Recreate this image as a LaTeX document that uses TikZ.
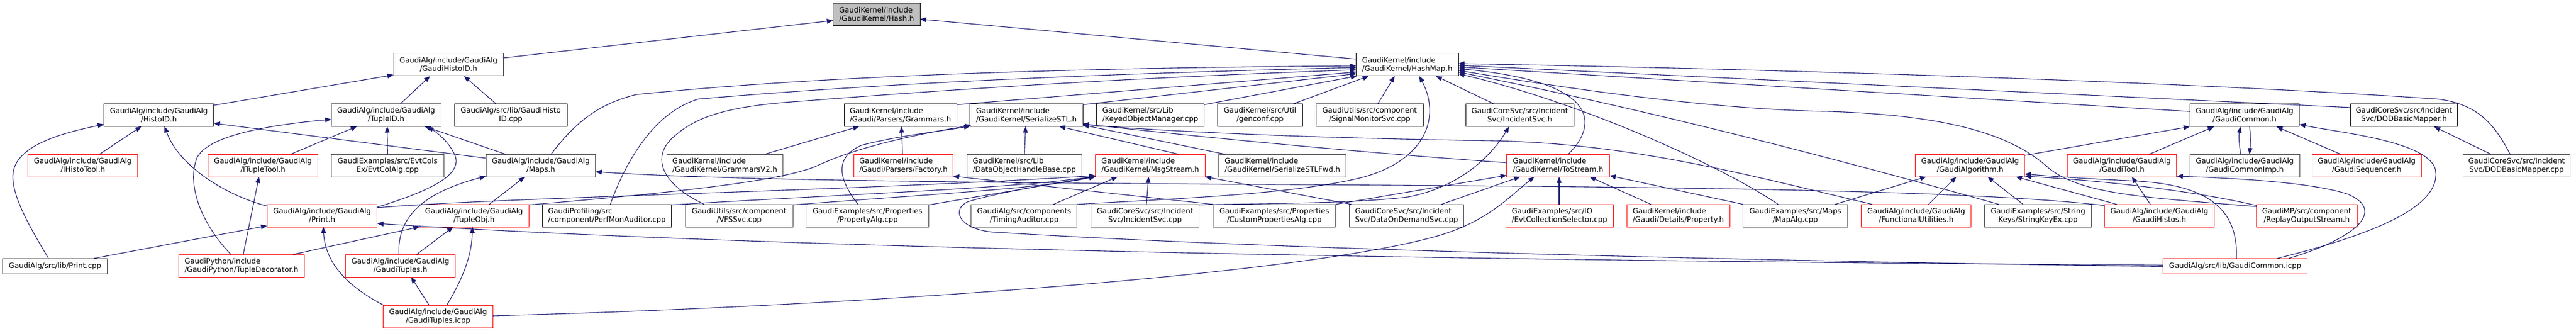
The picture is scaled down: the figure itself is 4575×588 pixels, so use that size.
\documentclass[tikz,border=0pt]{standalone}
\usepackage{fontspec}
\setmainfont{DejaVu Sans}
\usetikzlibrary{arrows.meta,calc}
\definecolor{edgecol}{HTML}{191970}
\definecolor{rootfill}{HTML}{BFBFBF}
\definecolor{leafborder}{HTML}{404040}
\begin{document}
\begin{tikzpicture}[x=1pt,y=-1pt,
  nd/.style={draw=black, line width=1pt, minimum height=40pt, inner sep=0pt, fill=white,
    font=\fontsize{13}{15}\selectfont, align=center},
  lf/.style={nd, draw=leafborder},
  rd/.style={nd, draw=red},
  la/.style={align=left},
  one/.style={minimum height=27pt},
  e/.style={draw=edgecol, line width=1.1pt, -{Triangle[length=11pt,width=8.5pt]}}]
\fill[white] (0,0) rectangle (4575,588);
\useasboundingbox (0,0) rectangle (4575,588);
% row 0
\node[nd, la, fill=rootfill, minimum width=154.5pt] (hash) at (1556.8,25.6) {GaudiKernel/include\\/GaudiKernel/Hash.h};
% row 1
\node[nd, minimum width=195pt] (gaudihistoid) at (796.5,115) {GaudiAlg/include/GaudiAlg\\/GaudiHistoID.h};
\node[nd, la, minimum width=181.4pt] (hashmap) at (2499.3,115) {GaudiKernel/include\\/GaudiKernel/HashMap.h};
% row 2
\node[nd, minimum width=195pt] (histoid) at (282.1,204.5) {GaudiAlg/include/GaudiAlg\\/HistoID.h};
\node[nd, minimum width=194.7pt] (tupleid) at (685.7,204.5) {GaudiAlg/include/GaudiAlg\\/TupleID.h};
\node[nd, minimum width=200pt] (gaudihistoidcpp) at (907,204.5) {GaudiAlg/src/lib/GaudiHisto\\ID.cpp};
\node[nd, la, minimum width=200pt] (grammars) at (1599,204.5) {GaudiKernel/include\\/Gaudi/Parsers/Grammars.h};
\node[nd, la, minimum width=200.4pt] (serializestl) at (1823,204.5) {GaudiKernel/include\\/GaudiKernel/SerializeSTL.h};
\node[nd, la, minimum width=190.5pt] (keyedobj) at (2043,204.5) {GaudiKernel/src/Lib\\/KeyedObjectManager.cpp};
\node[nd, minimum width=150.8pt] (genconf) at (2237.8,204.5) {GaudiKernel/src/Util\\/genconf.cpp};
\node[nd, minimum width=191pt] (signalmon) at (2432.5,204.5) {GaudiUtils/src/component\\/SignalMonitorSvc.cpp};
\node[nd, minimum width=192pt] (incidentsvch) at (2699.2,204.5) {GaudiCoreSvc/src/Incident\\Svc/IncidentSvc.h};
\node[nd, minimum width=194.5pt] (gaudicommon) at (3986.3,204.5) {GaudiAlg/include/GaudiAlg\\/GaudiCommon.h};
\node[nd, minimum width=190.5pt] (dodmapperh) at (4269.5,204.5) {GaudiCoreSvc/src/Incident\\Svc/DODBasicMapper.h};
% row 3
\node[rd, minimum width=195pt] (ihistotool) at (147.1,294) {GaudiAlg/include/GaudiAlg\\/IHistoTool.h};
\node[rd, minimum width=195.5pt] (itupletool) at (467,294) {GaudiAlg/include/GaudiAlg\\/ITupleTool.h};
\node[lf, minimum width=200pt] (evtcolalg) at (688.3,294) {GaudiExamples/src/EvtCols\\Ex/EvtColAlg.cpp};
\node[lf, minimum width=194.6pt] (maps) at (960.4,294) {GaudiAlg/include/GaudiAlg\\/Maps.h};
\node[lf, la, minimum width=206.4pt] (grammarsv2) at (1287.2,294) {GaudiKernel/include\\/GaudiKernel/GrammarsV2.h};
\node[rd, la, minimum width=176pt] (factory) at (1604.5,294) {GaudiKernel/include\\/Gaudi/Parsers/Factory.h};
\node[lf, la, minimum width=204.3pt] (dataobjhandle) at (1819.2,294) {GaudiKernel/src/Lib\\/DataObjectHandleBase.cpp};
\node[rd, la, minimum width=194.7pt] (msgstream) at (2042.9,294) {GaudiKernel/include\\/GaudiKernel/MsgStream.h};
\node[lf, la, minimum width=226.5pt] (serializestlfwd) at (2277.6,294) {GaudiKernel/include\\/GaudiKernel/SerializeSTLFwd.h};
\node[rd, la, minimum width=182.7pt] (tostream) at (2767.2,294) {GaudiKernel/include\\/GaudiKernel/ToStream.h};
\node[rd, minimum width=194.3pt] (gaudialgorithm) at (3498.8,294) {GaudiAlg/include/GaudiAlg\\/GaudiAlgorithm.h};
\node[rd, minimum width=194.5pt] (gauditool) at (3768.5,294) {GaudiAlg/include/GaudiAlg\\/GaudiTool.h};
\node[lf, minimum width=194.5pt] (gaudicommonimp) at (3986.7,294) {GaudiAlg/include/GaudiAlg\\/GaudiCommonImp.h};
\node[rd, minimum width=193.6pt] (gaudisequencer) at (4203.2,294) {GaudiAlg/include/GaudiAlg\\/GaudiSequencer.h};
\node[lf, minimum width=190.6pt] (dodmappercpp) at (4469.5,294) {GaudiCoreSvc/src/Incident\\Svc/DODBasicMapper.cpp};
% row 4
\node[rd, minimum width=195pt] (printh) at (572,383) {GaudiAlg/include/GaudiAlg\\/Print.h};
\node[rd, minimum width=194.5pt] (tupleobj) at (841.8,383) {GaudiAlg/include/GaudiAlg\\/TupleObj.h};
\node[nd, la, minimum width=229.3pt] (perfmon) at (1077.9,383) {GaudiProfiling/src\\/component/PerfMonAuditor.cpp};
\node[lf, minimum width=191pt] (vfssvc) at (1312.7,383) {GaudiUtils/src/component\\/VFSSvc.cpp};
\node[lf, minimum width=217.5pt] (propertyalg) at (1540.7,383) {GaudiExamples/src/Properties\\/PropertyAlg.cpp};
\node[lf, minimum width=188.1pt] (timingauditor) at (1818.9,383) {GaudiAlg/src/components\\/TimingAuditor.cpp};
\node[lf, minimum width=192pt] (incidentsvccpp) at (2033.5,383) {GaudiCoreSvc/src/Incident\\Svc/IncidentSvc.cpp};
\node[lf, minimum width=217.4pt] (customprop) at (2263.2,383) {GaudiExamples/src/Properties\\/CustomPropertiesAlg.cpp};
\node[lf, la, minimum width=203.3pt] (dataondemand) at (2498,383) {GaudiCoreSvc/src/Incident\\Svc/DataOnDemandSvc.cpp};
\node[rd, la, minimum width=190.6pt] (evtcollsel) at (2769.7,383) {GaudiExamples/src/IO\\/EvtCollectionSelector.cpp};
\node[rd, la, minimum width=183pt] (propertyh) at (2980.5,383) {GaudiKernel/include\\/Gaudi/Details/Property.h};
\node[lf, minimum width=185.4pt] (mapalg) at (3188.4,383) {GaudiExamples/src/Maps\\/MapAlg.cpp};
\node[rd, minimum width=194.9pt] (functional) at (3403.2,383) {GaudiAlg/include/GaudiAlg\\/FunctionalUtilities.h};
\node[lf, minimum width=189.6pt] (stringkeyex) at (3619.5,383) {GaudiExamples/src/String\\Keys/StringKeyEx.cpp};
\node[rd, minimum width=194.9pt] (gaudihistos) at (3835,383) {GaudiAlg/include/GaudiAlg\\/GaudiHistos.h};
\node[rd, minimum width=178.7pt] (replay) at (4096.7,383) {GaudiMP/src/component\\/ReplayOutputStream.h};
% row 5
\node[lf, one, minimum width=185.7pt] (printcpp) at (97.8,472.5) {GaudiAlg/src/lib/Print.cpp};
\node[rd, la, minimum width=223pt] (tupledecorator) at (428.8,472) {GaudiPython/include\\/GaudiPython/TupleDecorator.h};
\node[rd, minimum width=195pt] (gaudituplesh) at (711,472) {GaudiAlg/include/GaudiAlg\\/GaudiTuples.h};
\node[rd, one, minimum width=256.2pt] (gaudicommonicpp) at (3969.7,472.5) {GaudiAlg/src/lib/GaudiCommon.icpp};
% row 6
\node[rd, minimum width=194.2pt] (gaudituplesicpp) at (777.9,562) {GaudiAlg/include/GaudiAlg\\/GaudiTuples.icpp};

% ---------------- edges
\draw[e] ($(gaudihistoid)+(97,-12)$) -- ($(hash)+(-77.3,10.8)$);
\draw[e] ($(hashmap)+(-90.3,-10)$) -- ($(hash)+(77.2,8.4)$);
\draw[e] ($(histoid)+(97.9,-17.5)$) -- ($(gaudihistoid)+(-97.5,18)$);
\draw[e] ($(tupleid)+(25.3,-20)$) -- ($(gaudihistoid)+(-32.5,20)$);
\draw[e] ($(gaudihistoidcpp)+(-26,-20)$) -- ($(gaudihistoid)+(27.5,20)$);
\draw[e] ($(ihistotool)+(29.7,-20)$) -- ($(histoid)+(-31,20)$);
\draw[e] ($(printcpp)+(-11.8,-13.5)$) .. controls (60,415) and (20,350) .. (23,310) .. controls (26,265) and (90,240) .. ($(histoid)+(-97.5,16.5)$);
\draw[e] ($(printh)+(-97.5,-17)$) .. controls (410,350) and (320,300) .. ($(histoid)+(10,20)$);
\draw[e] ($(maps)+(-97.4,-13)$) -- ($(histoid)+(97.5,14.5)$);
\draw[e] ($(tupledecorator)+(-18.8,-20)$) .. controls (360,400) and (330,330) .. (350,280) .. controls (370,240) and (480,222) .. ($(tupleid)+(-97.3,7.5)$);
\draw[e] ($(itupletool)+(49,-20)$) -- ($(tupleid)+(-51.7,20)$);
\draw[e] ($(evtcolalg)+(0,-20)$) -- ($(tupleid)+(2,20)$);
\draw[e] ($(maps)+(-62.4,-20)$) -- ($(tupleid)+(68.3,20)$);
\draw[e] ($(printh)+(98,-15)$) .. controls (760,340) and (830,310) .. (805,270) .. controls (795,250) and (775,235) .. ($(tupleid)+(74,20)$);
\draw[e] ($(tupledecorator)+(3.2,-20)$) -- ($(itupletool)+(-7,20)$);
\draw[e] ($(tupledecorator)+(91.8,-20)$) -- ($(tupleobj)+(-96.8,20)$);
\draw[e] ($(printcpp)+(69.2,-13.5)$) -- ($(printh)+(-97.5,18)$);
\draw[e] ($(gaudicommonicpp)+(-128.1,-1.5)$) .. controls (3000,466) and (1500,450) .. ($(printh)+(98,14)$);
\draw[e] ($(gaudicommonicpp)+(-128.1,1)$) .. controls (3000,462) and (2200,440) .. (1760,412) .. controls (1700,405) and (1690,370) .. (1720,358) .. controls (1780,340) and (1880,325) .. ($(msgstream)+(-97.4,19.5)$);
\draw[e] ($(gaudituplesicpp)+(-96.9,-20)$) .. controls (620,510) and (578,470) .. ($(printh)+(2,20)$);
\draw[e] ($(gaudituplesicpp)+(-15.9,-20)$) -- ($(gaudituplesh)+(19,20)$);
\draw[e] ($(gaudituplesicpp)+(15.6,-20)$) .. controls (825,490) and (838,450) .. ($(tupleobj)+(-2.8,20)$);
\draw[e] ($(gaudituplesh)+(29,-20)$) -- ($(tupleobj)+(-36.8,20)$);
\draw[e] ($(gaudituplesh)+(-2.5,-20)$) .. controls (705,380) and (760,340) .. ($(maps)+(-97.4,19)$);
\draw[e] ($(tupleobj)+(27.2,-20)$) -- ($(maps)+(-28.4,20)$);
\draw[e] ($(maps)+(18.2,-20)$) .. controls (1020,220) and (1060,185) .. (1130,168) .. controls (1500,130) and (2000,120) .. ($(hashmap)+(-90.7,2)$);
\draw[e] ($(perfmon)+(6,-20)$) .. controls (1110,290) and (1160,200) .. (1240,176) .. controls (1600,145) and (2000,130) .. ($(hashmap)+(-90.7,5)$);
\draw[e] ($(vfssvc)+(-61.7,-20)$) .. controls (1180,330) and (1150,280) .. (1200,240) .. controls (1240,205) and (1300,188) .. (1420,180) .. controls (1800,150) and (2100,135) .. ($(hashmap)+(-90.7,9)$);
\draw[e] ($(grammars)+(100,-18.5)$) -- ($(hashmap)+(-90.7,13)$);
\draw[e] ($(serializestl)+(100,-18.5)$) -- ($(hashmap)+(-90.7,16)$);
\draw[e] ($(keyedobj)+(95,-18.5)$) -- ($(hashmap)+(-89.3,20)$);
\draw[e] ($(genconf)+(59,-20)$) -- ($(hashmap)+(-68.3,20)$);
\draw[e] ($(signalmon)+(14.5,-20)$) -- ($(hashmap)+(-22.3,20)$);
\draw[e] ($(incidentsvch)+(-46.2,-20)$) -- ($(hashmap)+(50.7,20)$);
\draw[e] ($(timingauditor)+(94,-20)$) .. controls (2100,352) and (2300,345) .. (2420,315) .. controls (2530,285) and (2560,210) .. ($(hashmap)+(21.4,20)$);
\draw[e] ($(tostream)+(18,-20)$) .. controls (2840,220) and (2840,145) .. ($(hashmap)+(90.7,7)$);
\draw[e] ($(gaudicommon)+(-97.3,-6.5)$) -- ($(hashmap)+(90.7,4)$);
\draw[e] ($(dodmapperh)+(-95.2,-13.5)$) -- ($(hashmap)+(90.7,1)$);
\draw[e] ($(dodmappercpp)+(-11.5,-20)$) .. controls (4430,220) and (4400,185) .. (4330,176) .. controls (3800,140) and (3000,120) .. ($(hashmap)+(90.7,-2)$);
\draw[e] ($(replay)+(-89.4,-16)$) .. controls (3800,350) and (3700,345) .. (3640,300) .. controls (3570,235) and (3450,205) .. (3250,198) .. controls (3050,195) and (2800,160) .. ($(hashmap)+(90.7,10)$);
\draw[e] ($(stringkeyex)+(-69.5,-20)$) .. controls (3200,265) and (2900,190) .. ($(hashmap)+(90.7,13)$);
\draw[e] ($(mapalg)+(-30.4,-20)$) .. controls (3050,290) and (2800,180) .. ($(hashmap)+(90.7,16)$);
\draw[e] ($(grammarsv2)+(70.8,-20)$) -- ($(grammars)+(-73,20)$);
\draw[e] ($(factory)+(-1.5,-20)$) -- ($(grammars)+(2,20)$);
\draw[e] ($(propertyalg)+(-16.7,-20)$) .. controls (1490,320) and (1480,280) .. (1530,258) .. controls (1600,240) and (1680,232) .. ($(serializestl)+(-100,19.5)$);
\draw[e] ($(tupleobj)+(97.2,-19)$) .. controls (1150,346) and (1380,325) .. (1450,295) .. controls (1520,262) and (1620,240) .. ($(serializestl)+(-98,18)$);
\draw[e] ($(printh)+(97,-14)$) .. controls (900,350) and (1500,340) .. ($(msgstream)+(-97.4,18)$);
\draw[e] ($(perfmon)+(114.6,-19)$) .. controls (1500,345) and (1800,335) .. ($(msgstream)+(-97.4,19)$);
\draw[e] ($(vfssvc)+(95.3,-19)$) .. controls (1650,345) and (1850,335) .. ($(msgstream)+(-97.4,19.5)$);
\draw[e] ($(propertyalg)+(108.7,-19)$) -- ($(msgstream)+(-97.4,20)$);
\draw[e] ($(timingauditor)+(52,-20)$) -- ($(msgstream)+(-58,20)$);
\draw[e] ($(incidentsvccpp)+(2.5,-20)$) -- ($(msgstream)+(-3,20)$);
\draw[e] ($(dataondemand)+(-98,-20)$) -- ($(msgstream)+(97.3,20)$);
\draw[e] ($(msgstream)+(50.6,-20)$) -- ($(serializestl)+(58,20)$);
\draw[e] ($(dataobjhandle)+(0.3,-20)$) -- ($(serializestl)+(-1.5,20)$);
\draw[e] ($(serializestlfwd)+(-101.6,-20)$) -- ($(serializestl)+(100,17.5)$);
\draw[e] ($(tostream)+(-91.4,-5)$) .. controls (2400,270) and (2100,240) .. ($(serializestl)+(100,15.5)$);
\draw[e] ($(functional)+(-78,-20)$) .. controls (3100,310) and (2900,255) .. (2650,250) .. controls (2300,245) and (2050,232) .. ($(serializestl)+(100,16.5)$);
\draw[e] ($(customprop)+(-108.7,-20)$) -- ($(factory)+(88,19)$);
\draw[e] ($(customprop)+(108.7,-20)$) -- ($(tostream)+(-91.4,17.5)$);
\draw[e] ($(incidentsvccpp)+(95.5,-19)$) .. controls (2250,361) and (2400,362) .. (2500,350) .. controls (2580,335) and (2640,290) .. ($(incidentsvch)+(-19,20.5)$);
\draw[e] ($(dataondemand)+(62,-20)$) -- ($(tostream)+(-67.2,20)$);
\draw[e] ($(gaudituplesicpp)+(97.1,-1)$) .. controls (1500,545) and (2300,490) .. (2550,420) .. controls (2640,395) and (2680,350) .. ($(tostream)+(-42.2,20)$);
\draw[e] ($(evtcollsel)+(-0.7,-20)$) -- ($(tostream)+(1.8,20)$);
\draw[e] ($(propertyh)+(-48.5,-20)$) -- ($(tostream)+(55.8,20)$);
\draw[e] ($(mapalg)+(-92.7,-20)$) -- ($(tostream)+(91.3,18)$);
\draw[e] ($(mapalg)+(70.6,-20)$) -- ($(gaudialgorithm)+(-77.8,20)$);
\draw[e] ($(functional)+(21.8,-20)$) -- ($(gaudialgorithm)+(-24.3,20)$);
\draw[e] ($(stringkeyex)+(-26.5,-20)$) -- ($(gaudialgorithm)+(31.2,20)$);
\draw[e] ($(gaudihistos)+(-75.5,-20)$) -- ($(gaudialgorithm)+(81.2,20)$);
\draw[e] ($(gaudicommonicpp)+(2.3,-13.5)$) .. controls (3975,370) and (3920,330) .. (3800,322) .. controls (3720,318) and (3650,314) .. ($(gaudialgorithm)+(97.2,15)$);
\draw[e] ($(replay)+(-89.4,-18)$) .. controls (3900,340) and (3750,322) .. ($(gaudialgorithm)+(97.2,19)$);
\draw[e] ($(gaudialgorithm)+(97.2,-18)$) -- ($(gaudicommon)+(-97.3,20.5)$);
\draw[e] ($(gaudihistos)+(-16,-20)$) -- ($(gauditool)+(17.5,20)$);
\draw[e] ($(gauditool)+(48.5,-20)$) -- ($(gaudicommon)+(-54.3,20.5)$);
\draw[e] ($(gaudisequencer)+(-46.2,-20)$) -- ($(gaudicommon)+(56.7,20.5)$);
\draw[e] ($(gaudicommonimp)+(-7,-20)$) .. controls (3976,255) and (3976,240) .. ($(gaudicommon)+(-7,20.5)$);
\draw[e] ($(gaudicommon)+(9,20.5)$) .. controls (3997,240) and (3997,255) .. ($(gaudicommonimp)+(8.3,-20)$);
\draw[e] ($(gaudicommonicpp)+(95,-13.5)$) .. controls (4180,425) and (4240,375) .. (4170,345) .. controls (4100,322) and (3950,316) .. ($(gauditool)+(97.2,19)$);
\draw[e] ($(gaudicommonicpp)+(75,-13.5)$) .. controls (4200,420) and (4340,370) .. (4325,300) .. controls (4310,250) and (4150,235) .. ($(gaudicommon)+(97.2,16.5)$);
\draw[e] ($(dodmappercpp)+(-45.5,-20)$) -- ($(dodmapperh)+(53.5,20.5)$);
\draw[e] ($(gaudihistos)+(-97.4,-18)$) .. controls (3500,338) and (3000,332) .. (2300,328) .. controls (1600,324) and (1250,318) .. ($(maps)+(97.3,11)$);
\end{tikzpicture}
\end{document}
